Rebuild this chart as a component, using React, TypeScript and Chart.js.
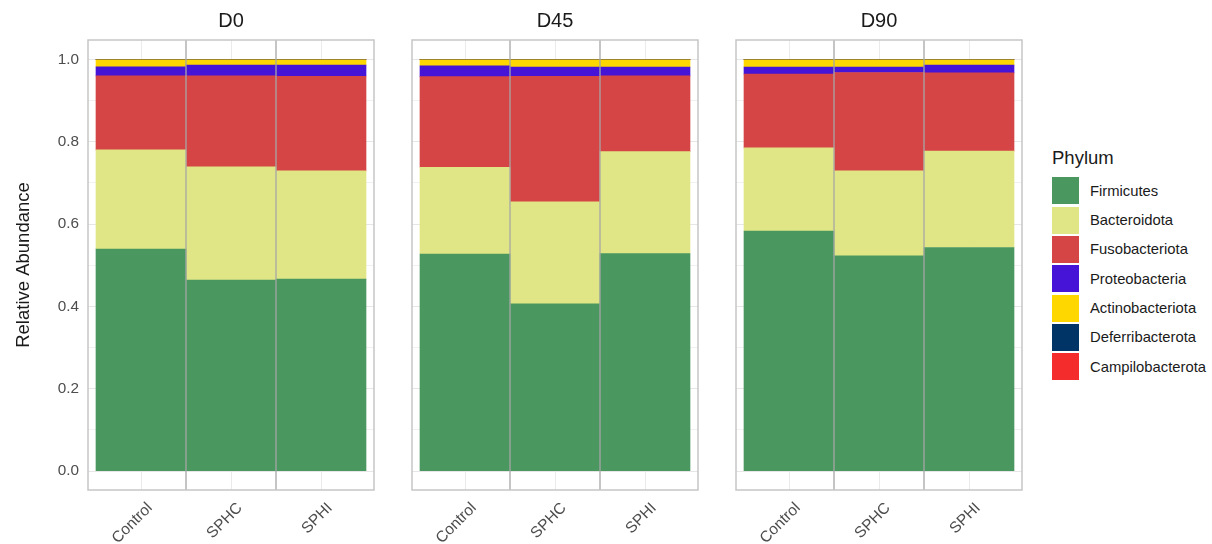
import { useEffect, useRef } from 'react';
import { Chart, registerables } from 'chart.js';

Chart.register(...registerables);

const FONT = '"Liberation Sans", Arial, Helvetica, sans-serif';
Chart.defaults.font.family = FONT;

// Facets (sampling days) and the treatment groups inside each facet
const days = ['D0', 'D45', 'D90'];
const groups = ['Control', 'SPHC', 'SPHI'];

// Phyla, bottom of the stack first
const phyla = [
  'Firmicutes',
  'Bacteroidota',
  'Fusobacteriota',
  'Proteobacteria',
  'Actinobacteriota',
  'Deferribacterota',
  'Campilobacterota',
];
const phylumColors = ['#4a9760', '#e0e686', '#d64545', '#4514d6', '#ffd700', '#003366', '#f42c2c'];

// Relative abundance per sample: D0 (Control, SPHC, SPHI), D45 (...), D90 (...)
const firmicutes = [0.539, 0.464, 0.466, 0.527, 0.406, 0.528, 0.583, 0.523, 0.543];
const bacteroidota = [0.241, 0.275, 0.263, 0.211, 0.248, 0.248, 0.202, 0.206, 0.234];
const fusobacteriota = [0.18, 0.221, 0.23, 0.22, 0.305, 0.184, 0.179, 0.239, 0.19];
const proteobacteria = [0.022, 0.026, 0.027, 0.026, 0.022, 0.021, 0.017, 0.013, 0.019];
const actinobacteriota = [0.017, 0.013, 0.013, 0.015, 0.018, 0.018, 0.018, 0.018, 0.013];
const deferribacterota = [0.0005, 0.0005, 0.0005, 0.0005, 0.0005, 0.0005, 0.0005, 0.0005, 0.0005];
const campilobacterota = [0.0005, 0.0005, 0.0005, 0.0005, 0.0005, 0.0005, 0.0005, 0.0005, 0.0005];

const abundance = [
  firmicutes,
  bacteroidota,
  fusobacteriota,
  proteobacteria,
  actinobacteriota,
  deferribacterota,
  campilobacterota,
];

// y grid: major every 0.2 (labelled), minor in between
const yGrid = [0, 0.1, 0.2, 0.3, 0.4, 0.5, 0.6, 0.7, 0.8, 0.9, 1.0];

const PANEL_LEFTS = [88, 412, 736];
const PANEL_W = 286;
const PANEL_TOP = 40;
const HEIGHT = 544;
const X_AXIS_H = 54;
const Y_AXIS_W = 88;
const EDGE_PAD = 2;
// horizontal breathing room around the bars, in category units
const X_EXPAND = 8 / 90;

const panelDecor = {
  id: 'panelDecor',
  afterDatasetsDraw(chart: any, _args: any, opts: any) {
    const { ctx, chartArea: a, scales } = chart;
    const x = scales.x;
    ctx.save();
    // separators between treatment groups
    ctx.strokeStyle = '#a6a6a6';
    ctx.lineWidth = 1.3;
    for (let i = 1; i < groups.length; i++) {
      const px = x.getPixelForValue(i + 0.5);
      ctx.beginPath();
      ctx.moveTo(px, a.top);
      ctx.lineTo(px, a.bottom);
      ctx.stroke();
    }
    // panel frame
    ctx.strokeStyle = '#c6c6c6';
    ctx.lineWidth = 1.5;
    ctx.strokeRect(a.left, a.top, a.right - a.left, a.bottom - a.top);
    // facet strip label
    ctx.fillStyle = '#1a1a1a';
    ctx.font = `20px ${FONT}`;
    ctx.textAlign = 'center';
    ctx.textBaseline = 'middle';
    ctx.fillText(opts.title, (a.left + a.right) / 2, 21.5);
    ctx.restore();
  },
};

type PanelProps = { index: number };

function Panel({ index }: PanelProps) {
  const ref = useRef<HTMLCanvasElement>(null);
  const showAxis = index === 0;
  const leftPad = showAxis ? 0 : EDGE_PAD;
  const yWidth = showAxis ? Y_AXIS_W : 0;
  const canvasLeft = PANEL_LEFTS[index] - yWidth - leftPad;
  const canvasWidth = yWidth + leftPad + PANEL_W + EDGE_PAD;

  useEffect(() => {
    const start = index * groups.length;
    const chart = new Chart(ref.current as HTMLCanvasElement, {
      type: 'bar',
      data: {
        datasets: phyla.map((name, p) => ({
          label: name,
          data: groups.map((_g, gi) => ({ x: gi + 1, y: abundance[p][start + gi] })),
          backgroundColor: phylumColors[p],
          borderWidth: 0,
          barPercentage: 1,
          categoryPercentage: 1,
        })),
      },
      options: {
        animation: false,
        responsive: false,
        events: [],
        layout: { padding: { top: PANEL_TOP, left: leftPad, right: EDGE_PAD, bottom: 0 } },
        plugins: {
          legend: { display: false },
          tooltip: { enabled: false },
          panelDecor: { title: days[index] },
        } as any,
        scales: {
          x: {
            type: 'linear',
            stacked: true,
            offset: false,
            min: 0.5 - X_EXPAND,
            max: groups.length + 0.5 + X_EXPAND,
            afterBuildTicks: (scale: any) => {
              scale.ticks = groups.map((_g, i) => ({ value: i + 1 }));
            },
            afterFit: (scale: any) => {
              scale.height = X_AXIS_H;
            },
            border: { display: false },
            grid: { color: '#ebebeb', lineWidth: 1, drawTicks: false, offset: false },
            ticks: {
              autoSkip: false,
              minRotation: 45,
              maxRotation: 45,
              padding: 9,
              labelOffset: 9,
              color: '#4d4d4d',
              font: { size: 15.5 },
              callback: (v: any) => groups[Math.round(Number(v)) - 1] ?? '',
            },
          },
          y: {
            type: 'linear',
            stacked: true,
            min: -0.046,
            max: 1.047,
            afterBuildTicks: (scale: any) => {
              scale.ticks = yGrid.map((v) => ({ value: v }));
            },
            afterFit: (scale: any) => {
              scale.width = yWidth;
            },
            border: { display: false },
            grid: {
              drawTicks: false,
              lineWidth: 1,
              color: (ctx: any) => (ctx.index % 2 === 0 ? '#e6e6e6' : '#f1f1f1'),
            },
            ticks: {
              display: showAxis,
              padding: 9,
              color: '#4d4d4d',
              font: { size: 15.3 },
              callback: (v: any, i: number) => (i % 2 === 0 ? Number(v).toFixed(1) : ''),
            },
            title: {
              display: showAxis,
              text: 'Relative Abundance',
              color: '#1a1a1a',
              font: { size: 18.5 },
              padding: { top: 13, bottom: 0 },
            },
          },
        },
      } as any,
      plugins: [panelDecor],
    });
    return () => chart.destroy();
  }, []);

  return (
    <canvas
      ref={ref}
      width={canvasWidth}
      height={HEIGHT}
      style={{ position: 'absolute', left: canvasLeft, top: 0, width: canvasWidth, height: HEIGHT }}
    />
  );
}

function Legend() {
  const left = 1052;
  const titleCenter = 158;
  const firstCenter = 190.7;
  const step = 29.33;
  const sw = 27;
  return (
    <div style={{ position: 'absolute', left: 0, top: 0, fontFamily: FONT }}>
      <div
        style={{
          position: 'absolute',
          left,
          top: titleCenter - 12,
          height: 24,
          lineHeight: '24px',
          fontSize: 18.5,
          color: '#1a1a1a',
          whiteSpace: 'nowrap',
        }}
      >
        Phylum
      </div>
      {phyla.map((name, i) => {
        const c = firstCenter + i * step;
        return (
          <div key={name}>
            <div
              style={{
                position: 'absolute',
                left,
                top: c - sw / 2,
                width: sw,
                height: sw,
                background: phylumColors[i],
              }}
            />
            <div
              style={{
                position: 'absolute',
                left: 1090,
                top: c - 10,
                height: 20,
                lineHeight: '20px',
                fontSize: 14.8,
                color: '#1a1a1a',
                whiteSpace: 'nowrap',
              }}
            >
              {name}
            </div>
          </div>
        );
      })}
    </div>
  );
}

export default function App() {
  return (
    <div
      style={{
        position: 'fixed',
        left: 0,
        top: 0,
        width: 1212,
        height: HEIGHT,
        background: '#ffffff',
        overflow: 'hidden',
      }}
    >
      {days.map((d, i) => (
        <Panel key={d} index={i} />
      ))}
      <Legend />
    </div>
  );
}
